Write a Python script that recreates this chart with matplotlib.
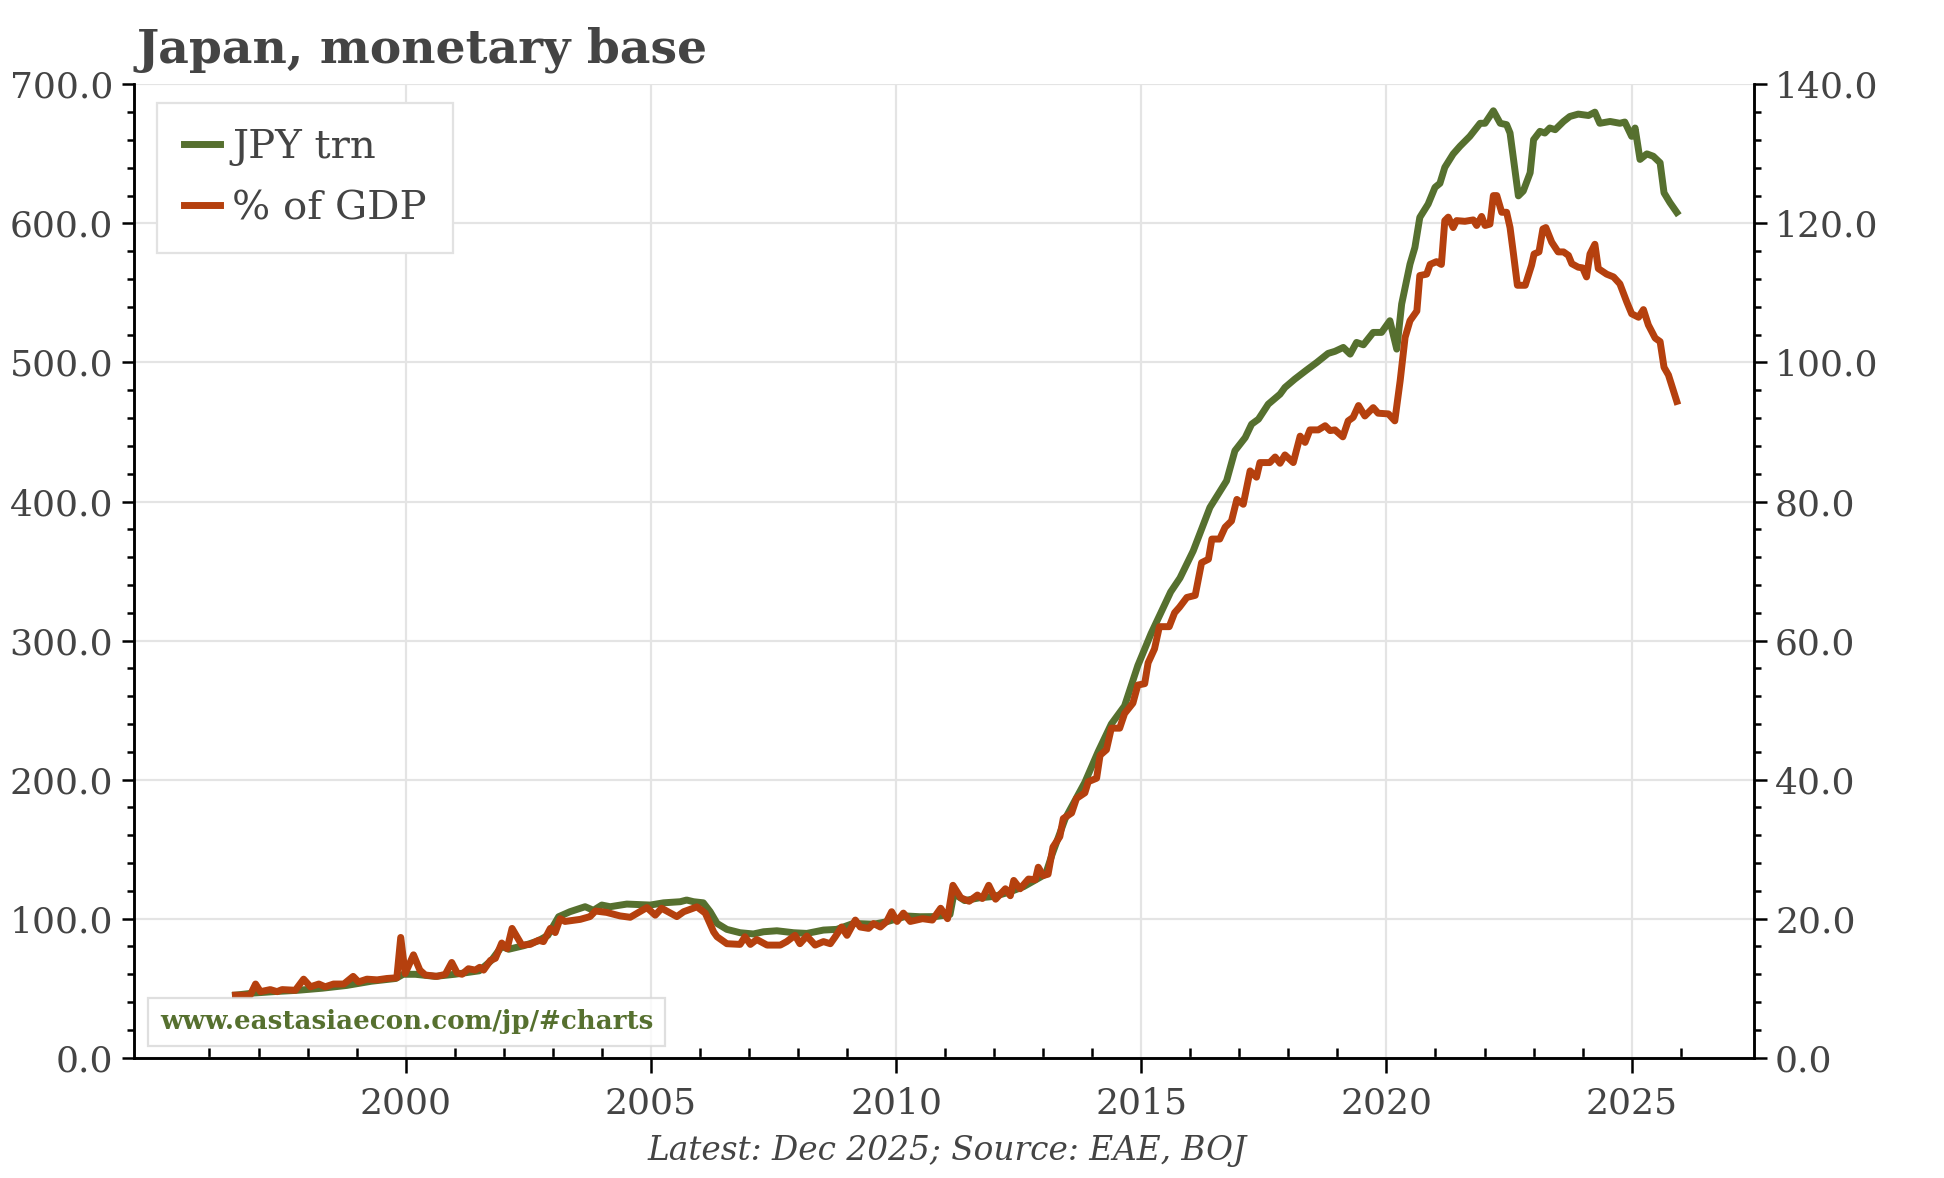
import numpy as np
import matplotlib
matplotlib.use("Agg")
import matplotlib.pyplot as plt
from matplotlib.ticker import MultipleLocator, FixedLocator, FormatStrFormatter

plt.rcParams['font.family'] = ['DejaVu Serif']

# monetary base, JPY trn (left axis)
jpy_t = [1996.53, 1996.90, 1997.30, 1997.80, 1998.30, 1998.80, 1999.30, 1999.80, 1999.95, 2000.20,
         2000.60, 2001.00, 2001.50, 2001.75, 2001.96, 2002.10, 2002.40, 2002.70, 2002.90, 2003.12,
         2003.35, 2003.66,
         2003.83, 2004.00, 2004.17, 2004.51, 2004.99, 2005.26, 2005.60, 2005.73, 2005.87, 2006.07,
         2006.21, 2006.35, 2006.55, 2006.82, 2007.09, 2007.30, 2007.57, 2007.91, 2008.18, 2008.52,
         2008.79, 2009.13, 2009.54, 2009.81, 2010.22, 2010.49, 2010.80, 2011.10, 2011.18, 2011.40,
         2011.70, 2012.00, 2012.30, 2012.60, 2012.90, 2013.05, 2013.18, 2013.45, 2013.85, 2014.12,
         2014.39, 2014.66, 2014.93, 2015.20, 2015.60, 2015.79, 2016.06, 2016.40, 2016.74, 2016.91,
         2017.12, 2017.25, 2017.39, 2017.59, 2017.83, 2017.93, 2018.13, 2018.37, 2018.58, 2018.81,
         2018.95, 2019.12, 2019.26, 2019.39, 2019.53, 2019.73, 2019.90, 2020.07, 2020.21, 2020.31,
         2020.48, 2020.58, 2020.68, 2020.85, 2020.99, 2021.09, 2021.19, 2021.36, 2021.50, 2021.70,
         2021.91, 2022.01, 2022.18, 2022.32, 2022.45, 2022.52, 2022.69, 2022.79, 2022.93, 2023.00,
         2023.13, 2023.23, 2023.33, 2023.44, 2023.61, 2023.74, 2023.91, 2024.12, 2024.25, 2024.35,
         2024.56, 2024.76, 2024.86, 2025.00, 2025.07, 2025.17, 2025.31, 2025.44, 2025.58, 2025.66,
         2025.78, 2025.92]
jpy_v = [45, 46.5, 47.5, 48.5, 50, 52, 55, 57, 60, 60,
         58.5, 60, 62.5, 70, 80, 78, 80.5, 84, 88, 101.4,
         105, 108.6,
         106, 109.8, 108.6, 110.5, 109.8, 111.4, 112.2, 113.4, 112.2, 111.4,
         105, 96.6, 92.3, 89.9, 89, 90.6, 91.3, 89.9, 89.4, 91.8,
         92.3, 96.6, 96, 97.8, 101.9, 101.4, 101.5, 103, 118, 113,
         115, 116, 119, 123, 129, 132, 146, 172, 198, 220,
         240, 253, 282, 305, 335, 345, 364.5, 395.7, 414.9, 436.5,
         446, 455.6, 459.2, 470, 477.2, 482, 488, 494.5, 500, 506.5,
         508, 510.8, 506, 514.4, 512.7, 521.6, 521.6, 530, 509.6, 542,
         570.7, 582.7, 604.3, 613.9, 625.9, 628.8, 640.3, 649.9, 655.5, 662.6,
         672, 672, 681, 672, 671, 665, 619.8, 623.3, 636.4, 660.2,
         666.2, 665, 668.6, 667.4, 673.3, 676.9, 678.6, 677.6, 680, 672,
         673.3, 672, 672.9, 662.6, 668.6, 646, 650, 648.3, 643.6, 622,
         615, 607.9]

# monetary base, % of GDP (right axis)
gdp_t = [1996.53, 1996.83, 1996.94, 1997.04, 1997.24, 1997.38, 1997.48, 1997.75, 1997.92, 1998.06,
         1998.23, 1998.36, 1998.53, 1998.74, 1998.93, 1999.04, 1999.21, 1999.42, 1999.62, 1999.82,
         1999.90, 1999.99, 2000.16, 2000.29, 2000.40, 2000.64, 2000.81, 2000.94, 2001.05, 2001.15,
         2001.28, 2001.42, 2001.51, 2001.59, 2001.73, 2001.83, 2001.96, 2002.07, 2002.17, 2002.37,
         2002.54, 2002.71, 2002.81, 2002.95, 2003.05, 2003.15, 2003.25, 2003.56, 2003.76, 2003.87,
         2004.10, 2004.37, 2004.58, 2004.92, 2005.09, 2005.22, 2005.53, 2005.67, 2005.94, 2006.11,
         2006.28, 2006.35, 2006.55, 2006.82, 2006.92, 2007.03, 2007.16, 2007.37, 2007.64, 2007.77,
         2007.94, 2008.04, 2008.18, 2008.35, 2008.52, 2008.66, 2008.76, 2008.89, 2009.00, 2009.17,
         2009.27, 2009.44, 2009.54, 2009.68, 2009.81, 2009.91, 2010.02, 2010.15, 2010.29, 2010.54,
         2010.74, 2010.91, 2011.05, 2011.16, 2011.32, 2011.49, 2011.66, 2011.76, 2011.89, 2012.03,
         2012.23, 2012.33, 2012.40, 2012.53, 2012.70, 2012.84, 2012.90, 2013.00, 2013.10, 2013.20,
         2013.34, 2013.41, 2013.58, 2013.68, 2013.85, 2013.92, 2014.09, 2014.16, 2014.29, 2014.39,
         2014.56, 2014.66, 2014.83, 2014.93, 2015.07, 2015.14, 2015.27, 2015.37, 2015.57, 2015.68,
         2015.78, 2015.93, 2016.10, 2016.23, 2016.37, 2016.44, 2016.60, 2016.71, 2016.84, 2016.95,
         2017.08, 2017.22, 2017.35, 2017.42, 2017.62, 2017.73, 2017.83, 2017.93, 2018.10, 2018.24,
         2018.34, 2018.44, 2018.61, 2018.75, 2018.85, 2018.95, 2019.11, 2019.22, 2019.32, 2019.43,
         2019.56, 2019.73, 2019.83, 2020.04, 2020.17, 2020.28, 2020.38, 2020.48, 2020.62, 2020.68,
         2020.82, 2020.89, 2021.02, 2021.12, 2021.19, 2021.26, 2021.36, 2021.43, 2021.60, 2021.77,
         2021.84, 2021.94, 2022.01, 2022.11, 2022.18, 2022.25, 2022.35, 2022.45, 2022.52, 2022.59,
         2022.67, 2022.83, 2022.96, 2023.01, 2023.11, 2023.19, 2023.25, 2023.37, 2023.50, 2023.61,
         2023.71, 2023.78, 2023.91, 2024.00, 2024.08, 2024.15, 2024.25, 2024.32, 2024.49, 2024.63,
         2024.76, 2024.90, 2025.00, 2025.14, 2025.24, 2025.34, 2025.48, 2025.58, 2025.66, 2025.75,
         2025.92]
gdp_v = [9.0, 9.0, 10.6, 9.5, 9.8, 9.5, 9.8, 9.7, 11.3, 10.2,
         10.6, 10.2, 10.6, 10.6, 11.7, 10.9, 11.3, 11.2, 11.4, 11.5,
         17.3, 12.1, 14.8, 12.6, 11.9, 11.7, 12.0, 13.7, 12.2, 12.0,
         12.8, 12.6, 13.0, 12.6, 14.0, 14.3, 16.5, 15.7, 18.6, 16.2,
         16.3, 16.9, 16.7, 18.6, 18.0, 20.0, 19.6, 19.9, 20.3, 21.1,
         20.9, 20.4, 20.2, 21.6, 20.5, 21.5, 20.3, 21.0, 21.7, 20.8,
         18.1, 17.4, 16.4, 16.3, 17.4, 16.3, 17.0, 16.2, 16.2, 16.7,
         17.6, 16.4, 17.5, 16.2, 16.7, 16.4, 17.4, 18.8, 17.6, 19.8,
         18.8, 18.6, 19.3, 18.8, 19.6, 21.0, 19.6, 20.8, 19.6, 20.0,
         19.8, 21.5, 20.0, 24.8, 23.0, 22.5, 23.4, 22.9, 24.8, 22.8,
         24.3, 23.3, 25.5, 24.3, 25.7, 25.6, 27.4, 26.2, 26.4, 30.3,
         31.8, 34.4, 35.2, 37.3, 38.1, 39.7, 40.2, 43.5, 44.3, 47.4,
         47.4, 49.5, 51.0, 53.6, 53.8, 56.8, 58.8, 62.0, 62.0, 64.0,
         64.8, 66.2, 66.5, 71.2, 71.7, 74.6, 74.6, 76.3, 77.2, 80.3,
         79.6, 84.4, 83.5, 85.6, 85.6, 86.4, 85.5, 86.7, 85.6, 89.4,
         88.5, 90.3, 90.3, 90.9, 90.2, 90.3, 89.3, 91.6, 92.1, 93.8,
         92.3, 93.5, 92.7, 92.6, 91.6, 97.4, 103.6, 106.0, 107.4, 112.5,
         112.7, 114.1, 114.5, 114.1, 120.4, 120.9, 119.4, 120.4, 120.3, 120.5,
         119.7, 121.0, 119.7, 119.9, 124.0, 124.0, 121.6, 121.6, 119.4, 115.6,
         111.1, 111.1, 114.0, 115.6, 115.9, 119.2, 119.4, 117.3, 115.9, 115.9,
         115.4, 114.2, 113.7, 113.6, 112.3, 115.6, 117.0, 113.5, 112.7, 112.3,
         111.3, 108.7, 107.0, 106.5, 107.6, 105.4, 103.5, 103.0, 99.3, 98.2,
         94.4]

year_ticks = [2000, 2005, 2010, 2015, 2020, 2025]
year_minor = list(range(1996, 2027))

green = '#56702f'
red = '#b5400e'
txt = '#444444'

fig = plt.figure(figsize=(9.72, 5.89), dpi=200)
ax = fig.add_axes([0.0689, 0.1021, 0.8335, 0.8263])
ax2 = ax.twinx()

l1, = ax.plot(jpy_t, jpy_v, color=green, lw=2.5, solid_joinstyle='round', label='JPY trn')
l2, = ax2.plot(gdp_t, gdp_v, color=red, lw=2.5, solid_joinstyle='round', label='% of GDP')

ax.set_xlim(1994.46, 2027.5)
ax.set_ylim(0, 700)
ax2.set_ylim(0, 140)

ax.xaxis.set_major_locator(FixedLocator(year_ticks))
ax.xaxis.set_minor_locator(FixedLocator(year_minor))
ax.yaxis.set_major_locator(MultipleLocator(100))
ax.yaxis.set_minor_locator(MultipleLocator(20))
ax2.yaxis.set_major_locator(MultipleLocator(20))
ax2.yaxis.set_minor_locator(MultipleLocator(4))
ax.yaxis.set_major_formatter(FormatStrFormatter('%.1f'))
ax2.yaxis.set_major_formatter(FormatStrFormatter('%.1f'))

ax.grid(True, which='major', color='#e4e4e4', lw=0.8)
ax.set_axisbelow(True)

for a in (ax, ax2):
    a.spines['top'].set_visible(False)
    for s in ('left', 'right', 'bottom'):
        a.spines[s].set_linewidth(0.9)
        a.spines[s].set_color('black')

ax.tick_params(axis='x', which='major', direction='out', length=5.5, width=0.9,
               labelsize=13, labelcolor=txt, pad=5)
ax.tick_params(axis='x', which='minor', direction='in', length=3.5, width=0.9)
ax.tick_params(axis='y', which='major', direction='out', length=4.5, width=0.9,
               labelsize=13, labelcolor=txt, pad=3)
ax.tick_params(axis='y', which='minor', direction='out', length=2.5, width=0.9)
ax2.tick_params(axis='y', which='major', direction='out', length=4.5, width=0.9,
                labelsize=13, labelcolor=txt, pad=3)
ax2.tick_params(axis='y', which='minor', direction='out', length=2.5, width=0.9)

leg = ax2.legend(handles=[l1, l2], loc='upper left', bbox_to_anchor=(0.0145, 0.981),
                 fontsize=14.5, frameon=True, fancybox=False, edgecolor='#e2e2e2',
                 framealpha=1, handlelength=0.9, handletextpad=0.3, labelspacing=0.6,
                 borderpad=0.65, borderaxespad=0)
for t in leg.get_texts():
    t.set_color(txt)
leg.get_frame().set_linewidth(0.8)

ax2.text(0.016, 0.037, 'www.eastasiaecon.com/jp/#charts', transform=ax2.transAxes,
         fontsize=9.4, fontweight='bold', color=green, va='center', ha='left', zorder=10,
         bbox=dict(boxstyle='square,pad=0.44', facecolor='white', alpha=0.8,
                   edgecolor='#d8d8d8', lw=0.8))

fig.text(0.070, 0.947, 'Japan, monetary base', fontsize=17, fontweight='bold',
         color=txt, ha='left', va='baseline')
fig.text(0.487, 0.023, 'Latest: Dec 2025; Source: EAE, BOJ', fontsize=11.8,
         style='italic', color=txt, ha='center', va='center')

fig.savefig('out.png', dpi=200)
